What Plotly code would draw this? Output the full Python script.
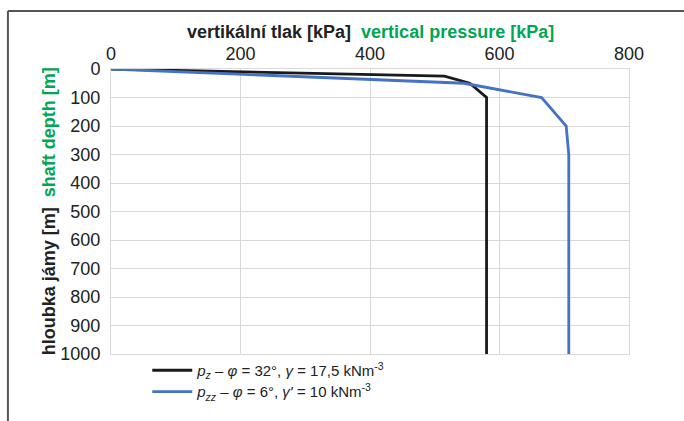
import plotly.graph_objects as go

# Depth profiles of vertical pressure
depth_z = [0, 25, 50, 100, 1000]
p_z = [0, 515, 554, 580, 580]

depth_zz = [0, 50, 100, 200, 300, 1000]
p_zz = [0, 545, 665, 703, 707, 707]

x_ticks = [0, 200, 400, 600, 800]
y_ticks = [0, 100, 200, 300, 400, 500, 600, 700, 800, 900, 1000]

name_z = "<i>p<sub>z</sub></i> – <i>φ</i> = 32°, <i>γ</i> = 17,5 kNm<sup>-3</sup>"
name_zz = "<i>p<sub>zz</sub></i> – <i>φ</i> = 6°, <i>γ'</i> = 10 kNm<sup>-3</sup>"

FONT = "Liberation Sans, Arial, sans-serif"
GREEN = "#00A651"

fig = go.Figure()
fig.add_trace(go.Scatter(x=p_z, y=depth_z, mode="lines", name=name_z,
                         line=dict(color="#1a1a1a", width=2.8), legend="legend"))
fig.add_trace(go.Scatter(x=p_zz, y=depth_zz, mode="lines", name=name_zz,
                         line=dict(color="#4472C4", width=2.8), legend="legend2"))

legend_style = dict(xanchor="left", yanchor="top",
                    font=dict(size=15, color="#222222"),
                    bgcolor="rgba(0,0,0,0)", itemwidth=40)

fig.update_layout(
    width=684, height=421,
    margin=dict(l=111, r=55, t=69, b=67),
    paper_bgcolor="white", plot_bgcolor="white",
    font=dict(family=FONT, color="#222222"),
    showlegend=True,
    legend=dict(x=0.07, y=0.0, **legend_style),
    legend2=dict(x=0.07, y=-0.075, **legend_style),
    xaxis=dict(side="top", range=[0, 800], tickvals=x_ticks, showgrid=True,
               gridcolor="#d9d9d9", gridwidth=1, zeroline=False,
               showline=True, linecolor="#d9d9d9", mirror=True, ticks="",
               ticklabelstandoff=1, automargin=False,
               tickfont=dict(size=18, color="#222222")),
    yaxis=dict(range=[1000, 0], tickvals=y_ticks, showgrid=True,
               gridcolor="#d9d9d9", gridwidth=1, zeroline=False,
               showline=True, linecolor="#d9d9d9", mirror=True, ticks="",
               ticklabelstandoff=6, automargin=False,
               tickfont=dict(size=18, color="#222222")),
    annotations=[
        dict(xref="paper", yref="paper", x=0.5, y=1.13, xanchor="center",
             yanchor="middle", showarrow=False,
             text="<b>vertikální tlak [kPa]</b>  <b><span style='color:%s'>vertical pressure [kPa]</span></b>" % GREEN,
             font=dict(size=18, color="#222222")),
        dict(xref="paper", yref="paper", x=-0.12, y=0.5, xanchor="center",
             yanchor="middle", showarrow=False, textangle=-90,
             text="<b>hloubka jámy [m]</b>  <b><span style='color:%s'>shaft depth [m]</span></b>" % GREEN,
             font=dict(size=18, color="#222222")),
    ],
    shapes=[
        dict(type="line", xref="paper", yref="paper", x0=-0.199, x1=1.2,
             y0=1.2035, y1=1.2035, line=dict(color="#555555", width=2)),
        dict(type="line", xref="paper", yref="paper", x0=-0.199, x1=-0.199,
             y0=1.2035, y1=-0.3, line=dict(color="#555555", width=2)),
    ],
)

fig.write_html("out.html")
